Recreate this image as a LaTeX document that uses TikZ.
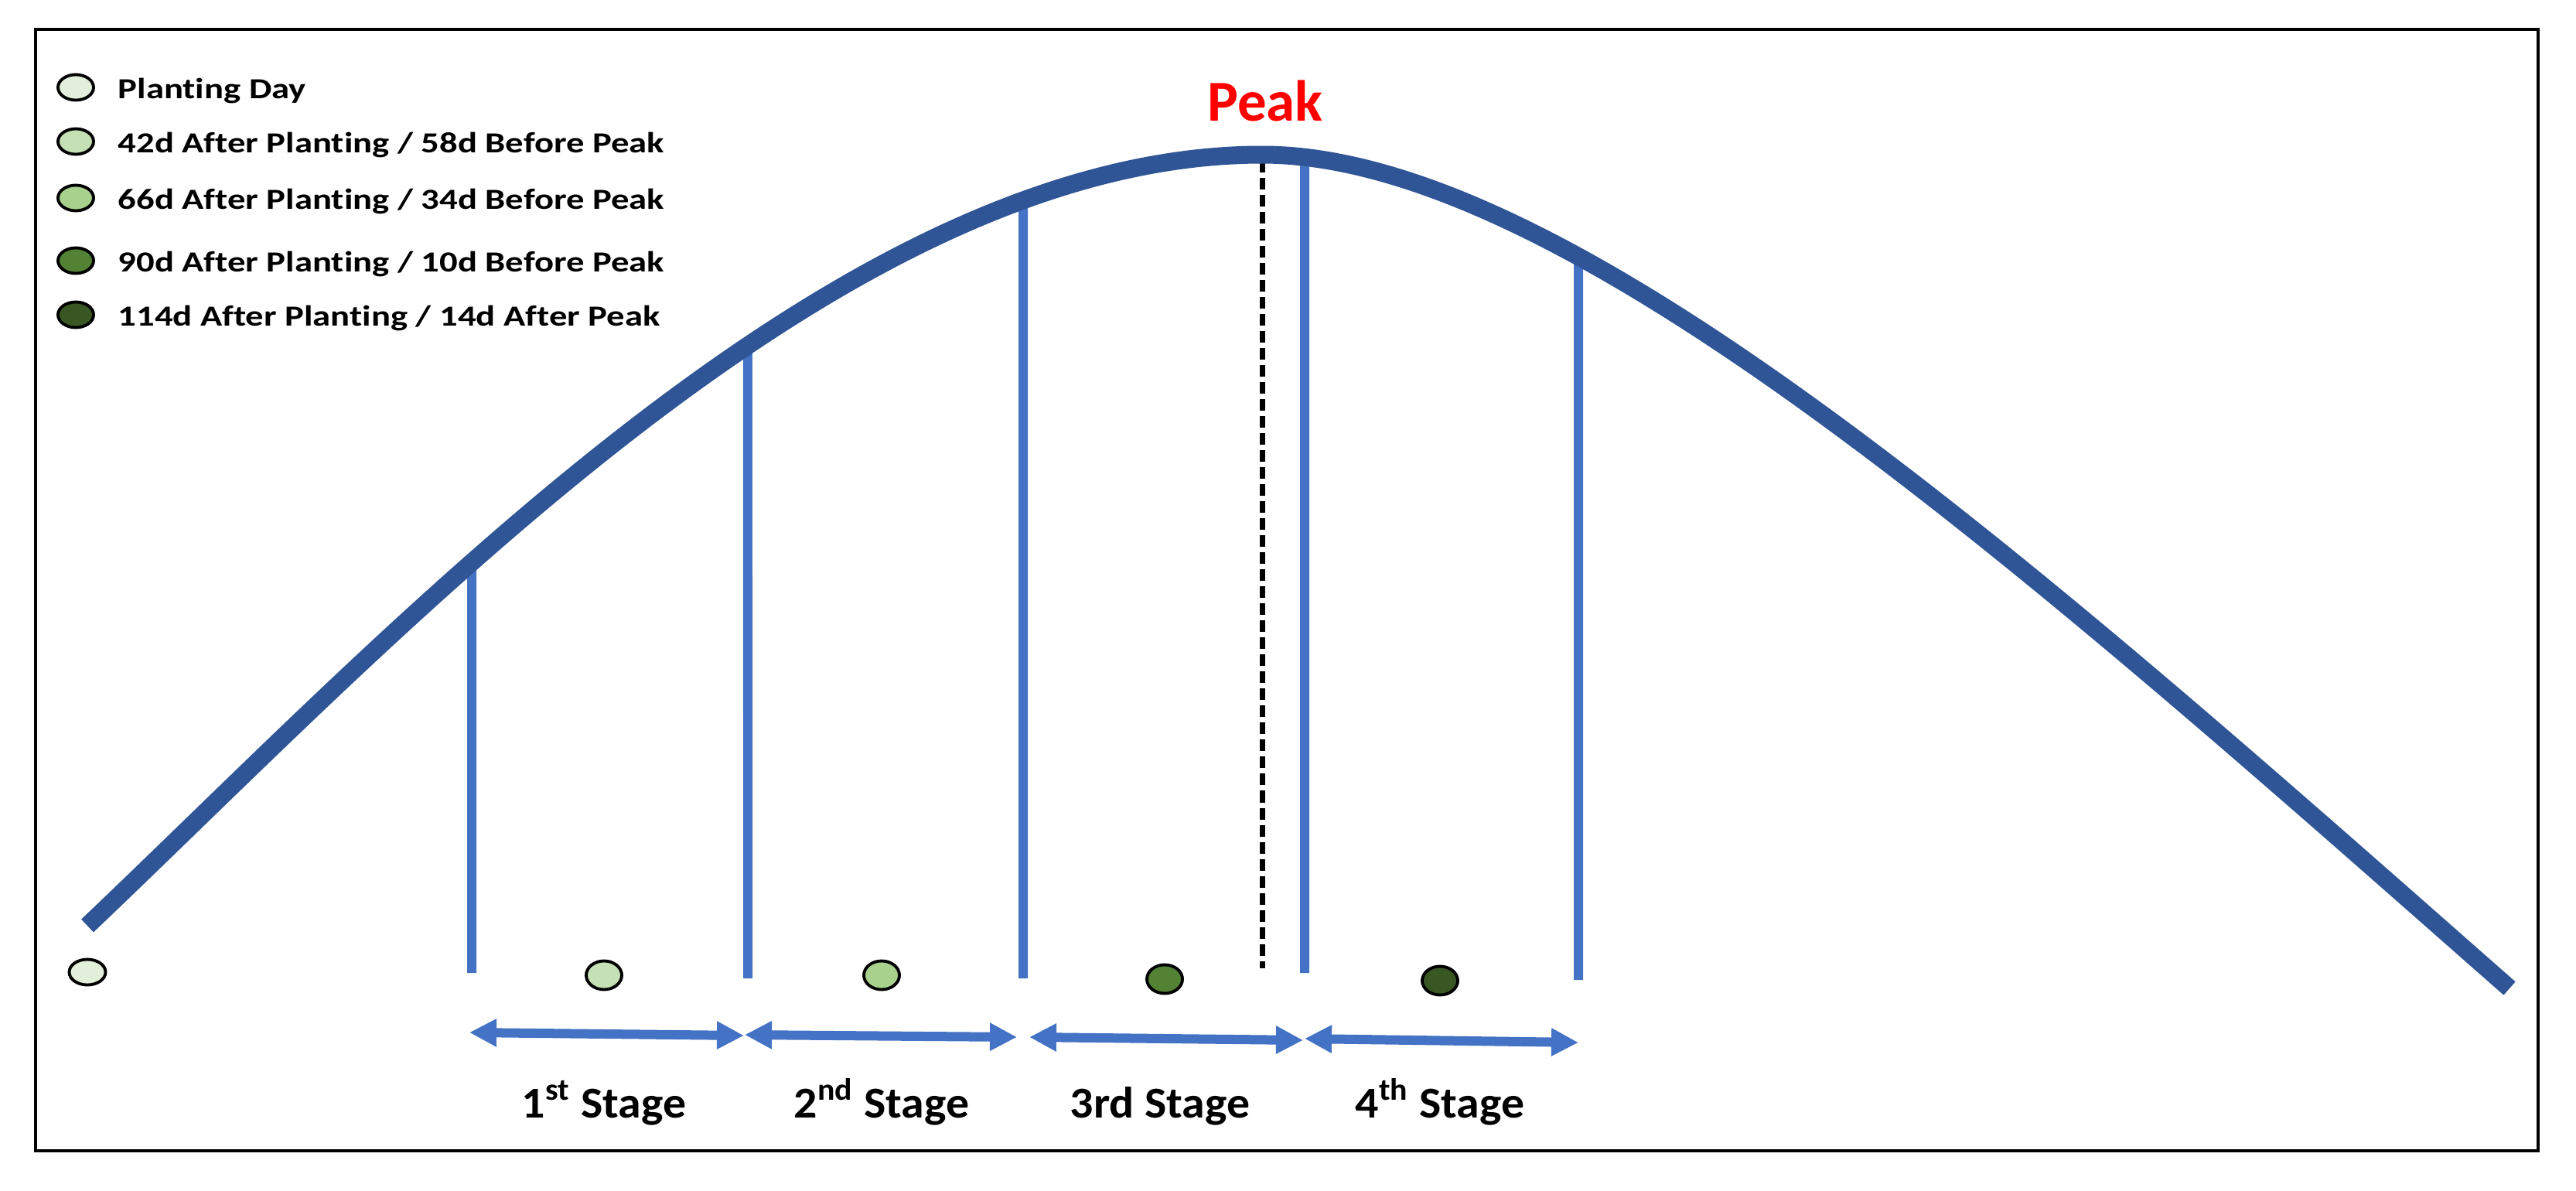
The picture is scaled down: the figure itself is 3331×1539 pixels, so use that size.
\documentclass[tikz,border=0pt]{standalone}
\usepackage{fontspec}
\setmainfont{Carlito}[Ligatures={NoCommon}]
\usetikzlibrary{shapes.geometric,arrows.meta,intersections}
\definecolor{curveblue}{RGB}{47,85,151}
\definecolor{lineblue}{RGB}{68,114,196}
\definecolor{peakred}{RGB}{255,0,0}
\definecolor{gA}{RGB}{226,239,218}
\definecolor{gB}{RGB}{197,224,180}
\definecolor{gC}{RGB}{169,209,142}
\definecolor{gD}{RGB}{84,130,53}
\definecolor{gE}{RGB}{56,87,35}
\begin{document}
\begin{tikzpicture}[x=0.01cm,y=-0.01cm,
  dot/.style={ellipse,draw=black,line width=1.1pt,inner sep=0pt,minimum width=0.46cm,minimum height=0.34cm},
  stagedot/.style={dot,minimum height=0.37cm},
  legtext/.style={anchor=base west,inner sep=0pt,font=\fontsize{10.7}{12}\selectfont\bfseries},
  stagetext/.style={anchor=base,inner sep=0pt,font=\fontsize{16.2}{19}\selectfont\bfseries},
  vline/.style={draw=lineblue,line width=0.12cm},
  stagearrow/.style={draw=lineblue,line width=0.12cm,{Triangle[length=0.35cm,width=0.34cm]}-{Triangle[length=0.35cm,width=0.34cm]}},
  curvestyle/.style={draw=curveblue,line width=0.23cm}
]
\useasboundingbox (0,0) rectangle (3331,1539);
\fill[white] (0,0) rectangle (3331,1539);
% frame
\draw[line width=0.95pt] (46,38) rectangle (3282,1488);

% curve geometry
\coordinate (cs) at (113,1197);
\coordinate (ctop) at (1632,200);
\coordinate (ce) at (3245,1278);
\path[name path=crv] (cs) .. controls (513,817) and (1082,200) .. (ctop)
  .. controls (2032,200) and (2645,750) .. (ce);

% stage boundaries
\coordinate (b1) at (610,1258);
\coordinate (b2) at (967,1265);
\coordinate (b3) at (1323,1265);
\coordinate (b4) at (1687,1258);
\coordinate (b5) at (2041,1267);
\path[name path=v1] (610,0) -- (b1);
\path[name path=v2] (967,0) -- (b2);
\path[name path=v3] (1323,0) -- (b3);
\path[name path=v4] (1687,0) -- (b4);
\path[name path=v5] (2041,0) -- (b5);
\path[name intersections={of=crv and v1,by=t1}];
\path[name intersections={of=crv and v2,by=t2}];
\path[name intersections={of=crv and v3,by=t3}];
\path[name intersections={of=crv and v4,by=t4}];
\path[name intersections={of=crv and v5,by=t5}];
\coordinate (pk) at (1632,208);  \coordinate (pb) at (1632,1252);

\draw[vline] (t1) -- (b1);
\draw[vline] (t2) -- (b2);
\draw[vline] (t3) -- (b3);
\draw[vline] (t4) -- (b4);
\draw[vline] (t5) -- (b5);
\draw[line width=0.07cm,dash pattern=on 0.15cm off 0.07cm] (pk) -- (pb);

% main curve
\draw[curvestyle] (cs) .. controls (513,817) and (1082,200) .. (ctop)
  .. controls (2032,200) and (2645,750) .. (ce);

% peak label
\node[anchor=base,inner sep=0pt,text=peakred,font=\fontsize{21.3}{25}\selectfont\bfseries] (peak) at (1636,156) {Peak};

% dots along axis
\node[dot,minimum width=0.47cm,minimum height=0.33cm,fill=gA] (d0) at (113,1257) {};
\node[stagedot,fill=gB] (d1) at (781,1261) {};
\node[stagedot,fill=gC] (d2) at (1140,1261) {};
\node[stagedot,fill=gD] (d3) at (1506,1266) {};
\node[stagedot,fill=gE] (d4) at (1862,1268) {};

% stage arrows
\coordinate (a1l) at (607,1335); \coordinate (a1r) at (962,1339);
\coordinate (a2l) at (963,1338); \coordinate (a2r) at (1315,1341);
\coordinate (a3l) at (1331,1341); \coordinate (a3r) at (1685,1345);
\coordinate (a4l) at (1687,1343); \coordinate (a4r) at (2041,1348);
\draw[stagearrow] (a1l) -- (a1r);
\draw[stagearrow] (a2l) -- (a2r);
\draw[stagearrow] (a3l) -- (a3r);
\draw[stagearrow] (a4l) -- (a4r);

% stage labels
\node[stagetext] (s1) at (781,1445) {\scalebox{1.05}[1]{1\textsuperscript{st} Stage}};
\node[stagetext] (s2) at (1140,1445) {\scalebox{1.05}[1]{2\textsuperscript{nd} Stage}};
\node[stagetext] (s3) at (1500,1445) {\scalebox{1.05}[1]{3rd Stage}};
\node[stagetext] (s4) at (1862,1445) {\scalebox{1.05}[1]{4\textsuperscript{th} Stage}};

% legend
\node[dot,minimum height=0.33cm,fill=gA] (l1) at (98,113) {};
\node[dot,minimum height=0.33cm,fill=gB] (l2) at (98,183) {};
\node[dot,minimum height=0.33cm,fill=gC] (l3) at (98,256) {};
\node[dot,minimum height=0.33cm,fill=gD] (l4) at (98,337) {};
\node[dot,minimum height=0.33cm,fill=gE] (l5) at (98,407) {};
\node[legtext] (lt1) at (152,127) {\scalebox{1.24}[1]{Planting Day}};
\node[legtext] (lt2) at (152,197) {\scalebox{1.24}[1]{42d After Planting / 58d Before Peak}};
\node[legtext] (lt3) at (152,270) {\scalebox{1.24}[1]{66d After Planting / 34d Before Peak}};
\node[legtext] (lt4) at (152,351) {\scalebox{1.24}[1]{90d After Planting / 10d Before Peak}};
\node[legtext] (lt5) at (152,421) {\scalebox{1.24}[1]{114d After Planting / 14d After Peak}};
\end{tikzpicture}
\end{document}
